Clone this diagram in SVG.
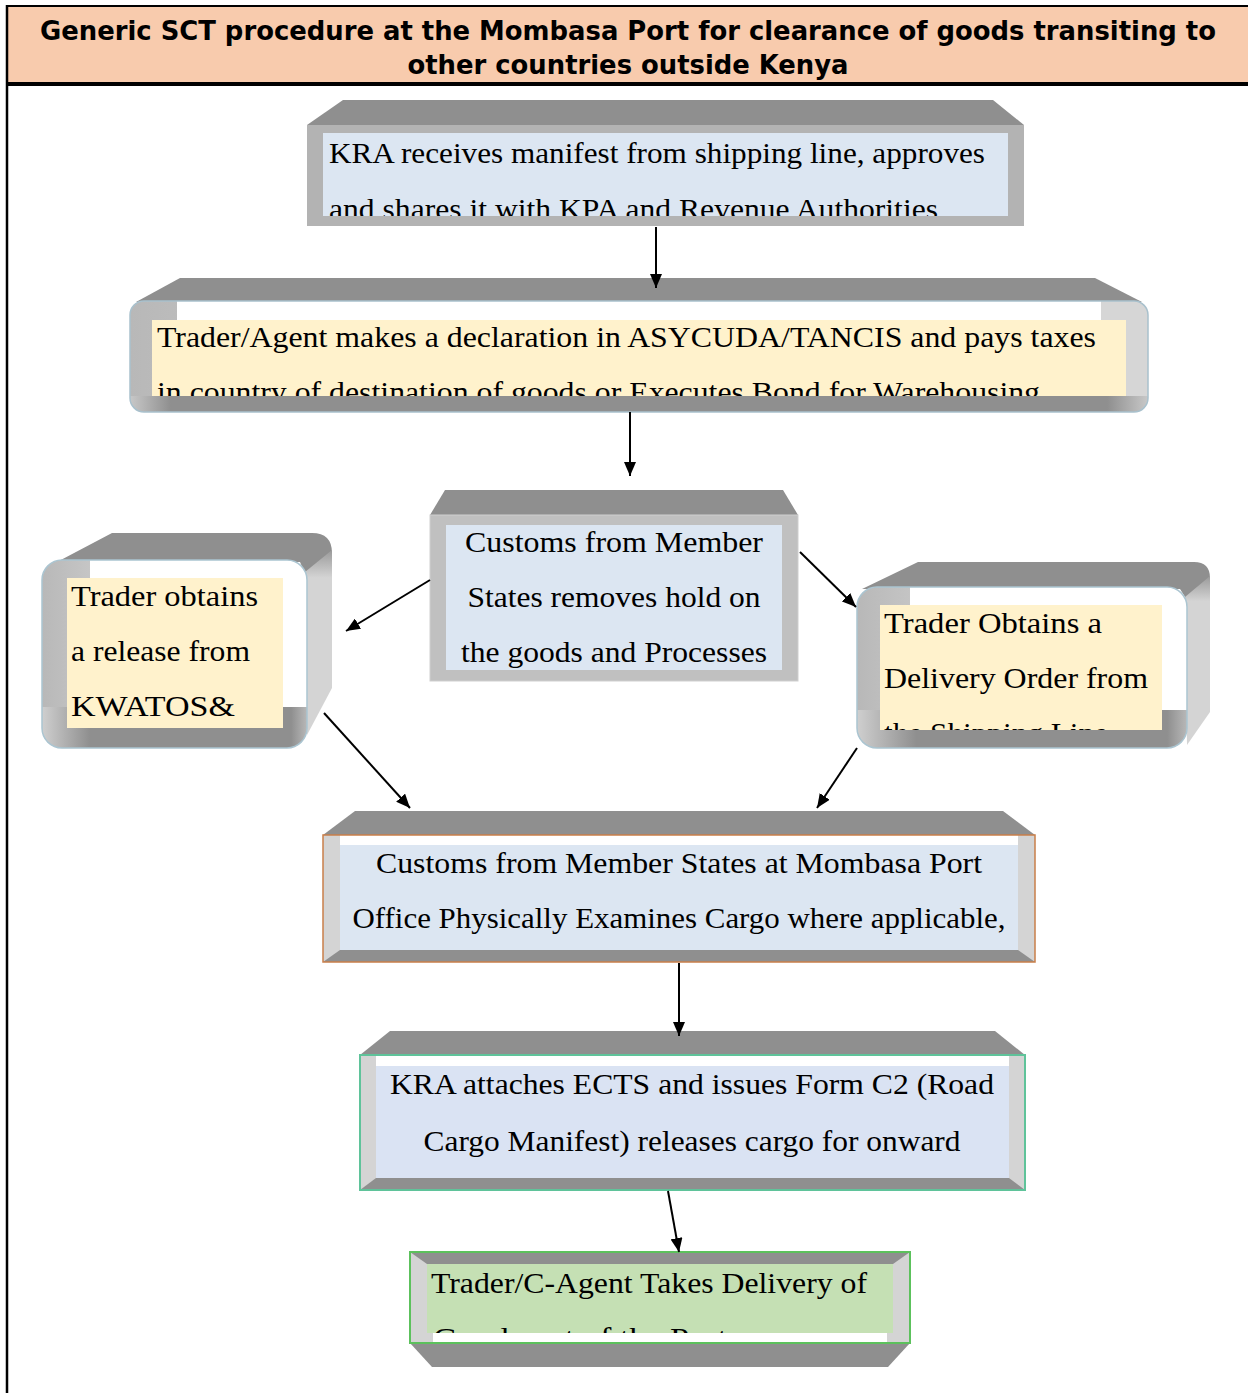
<svg xmlns="http://www.w3.org/2000/svg" width="1248" height="1393" viewBox="0 0 1248 1393">
<style>
.t{font-family:"Liberation Serif","Times New Roman",serif;font-size:30px;fill:#000}
.c{text-anchor:middle}
.dk{fill:#8f8f8f}
.lg{fill:#d4d4d4}
.cream{fill:#fff2cc}
.blue{fill:#dce6f2}
.ttl{font-family:"DejaVu Sans Condensed","DejaVu Sans","Liberation Sans",sans-serif;font-weight:bold;font-size:27px;fill:#000;text-anchor:middle}
.conn{stroke:#000;stroke-width:2;fill:none;marker-end:url(#ah)}
</style>
<defs>
<marker id="ah" markerUnits="userSpaceOnUse" viewBox="0 0 14 12" refX="14" refY="6" markerWidth="14" markerHeight="12" orient="auto">
<path d="M0,0 L14,6 L0,12 Z" fill="#000"/>
</marker>
<linearGradient id="bandH" x1="0" y1="0" x2="1" y2="0">
<stop offset="0" stop-color="#c8c8c8"/><stop offset="0.04" stop-color="#8f8f8f"/><stop offset="0.96" stop-color="#8f8f8f"/><stop offset="1" stop-color="#c8c8c8"/>
</linearGradient>
<linearGradient id="bandS" x1="0" y1="0" x2="1" y2="0">
<stop offset="0" stop-color="#cfcfcf"/><stop offset="0.18" stop-color="#8f8f8f"/><stop offset="0.94" stop-color="#8f8f8f"/><stop offset="1" stop-color="#b8b8b8"/>
</linearGradient>
<linearGradient id="sideV" x1="0" y1="0" x2="0" y2="1">
<stop offset="0" stop-color="#9a9a9a"/><stop offset="0.15" stop-color="#d4d4d4"/><stop offset="1" stop-color="#d4d4d4"/>
</linearGradient>
<linearGradient id="sideL" x1="0" y1="0" x2="1" y2="0">
<stop offset="0" stop-color="#b8b8b8"/><stop offset="0.4" stop-color="#d6d6d6"/><stop offset="1" stop-color="#d6d6d6"/>
</linearGradient>
<clipPath id="c1"><rect x="323" y="133" width="685" height="83"/></clipPath>
<clipPath id="c2"><rect x="152" y="320" width="974" height="76"/></clipPath>
<clipPath id="c2f"><rect x="130" y="301" width="1018" height="111" rx="14"/></clipPath>
<clipPath id="c4f"><rect x="42" y="560" width="265" height="188" rx="20"/></clipPath>
<clipPath id="c5f"><rect x="857" y="587" width="330" height="161" rx="20"/></clipPath>
<clipPath id="c5"><rect x="880" y="605" width="282" height="125"/></clipPath>
<clipPath id="c8"><rect x="427" y="1264" width="466" height="69"/></clipPath>
</defs>

<g id="title">
<rect x="7" y="6" width="1241" height="78" fill="#f8cbad"/>
<line x1="6" y1="6" x2="1248" y2="6" stroke="#000" stroke-width="2"/>
<rect x="6" y="82" width="1242" height="4" fill="#000"/>
<line x1="7" y1="5" x2="7" y2="1393" stroke="#000" stroke-width="2.5"/>
<text class="ttl" x="628" y="40" textLength="1176" lengthAdjust="spacingAndGlyphs">Generic SCT procedure at the Mombasa Port for clearance of goods transiting to</text>
<text class="ttl" x="628" y="74" textLength="441" lengthAdjust="spacingAndGlyphs">other countries outside Kenya</text>
</g>

<g id="node1">
<polygon class="dk" points="343,100 993,100 1024,125 307,125"/>
<rect x="307" y="125" width="717" height="101" fill="#b3b3b3"/>
<rect class="blue" x="323" y="133" width="685" height="83"/>
<g clip-path="url(#c1)">
<text class="t" x="329" y="163" textLength="656" lengthAdjust="spacingAndGlyphs">KRA receives manifest from shipping line, approves</text>
<text class="t" x="329" y="219" textLength="609" lengthAdjust="spacingAndGlyphs">and shares it with KPA and Revenue Authorities</text>
</g>
</g>

<g id="node2">
<polygon class="dk" points="180,278 1095,278 1142,302 136,302"/>
<rect x="130" y="301" width="1018" height="111" rx="14" fill="url(#sideL)"/>
<g clip-path="url(#c2f)">
<rect x="1101" y="301" width="47" height="111" fill="#d6d6d6"/>
<rect x="177" y="301" width="924" height="95" fill="#fff"/>
<rect x="130" y="396" width="1018" height="16" fill="url(#bandH)"/>
</g>
<rect x="130" y="301" width="1018" height="111" rx="14" fill="none" stroke="#a9c1cd" stroke-width="1.5"/>
<rect class="cream" x="152" y="320" width="974" height="76"/>
<g clip-path="url(#c2)">
<text class="t" x="157" y="347" textLength="939" lengthAdjust="spacingAndGlyphs">Trader/Agent makes a declaration in ASYCUDA/TANCIS and pays taxes</text>
<text class="t" x="157" y="402" textLength="883" lengthAdjust="spacingAndGlyphs">in country of destination of goods or Executes Bond for Warehousing</text>
</g>
</g>

<g id="node3">
<polygon class="dk" points="445,490 783,490 798,515 430,515"/>
<rect x="430" y="515" width="368" height="166" fill="#c0c0c0" stroke="#cfcfcf" stroke-width="1"/>
<rect class="blue" x="446" y="525" width="336" height="145"/>
<text class="t c" x="614" y="552" textLength="298" lengthAdjust="spacingAndGlyphs">Customs from Member</text>
<text class="t c" x="614" y="607" textLength="293" lengthAdjust="spacingAndGlyphs">States removes hold on</text>
<text class="t c" x="614" y="662" textLength="306" lengthAdjust="spacingAndGlyphs">the goods and Processes</text>
</g>

<g id="node4">
<path class="dk" d="M57,562 L112,533 L312,533 Q332,533 332,553 L307,578 L300,562 Z"/>
<path d="M305,572 L332,550 L332,688 L307,735 Z" fill="url(#sideV)"/>
<rect x="42" y="560" width="265" height="188" rx="20" fill="url(#sideL)"/>
<g clip-path="url(#c4f)">
<rect x="90" y="560" width="217" height="147" fill="#fff"/>
<rect x="42" y="707" width="265" height="41" fill="url(#bandS)"/>
</g>
<rect x="42" y="560" width="265" height="188" rx="20" fill="none" stroke="#abc5d1" stroke-width="1.5"/>
<rect class="cream" x="67" y="578" width="216" height="150"/>
<text class="t" x="71" y="606" textLength="187" lengthAdjust="spacingAndGlyphs">Trader obtains</text>
<text class="t" x="71" y="661" textLength="179" lengthAdjust="spacingAndGlyphs">a release from</text>
<text class="t" x="71" y="716" textLength="164" lengthAdjust="spacingAndGlyphs">KWATOS&amp;</text>
</g>

<g id="node5">
<path class="dk" d="M862,589 L918,562 L1194,562 Q1210,562 1210,578 L1187,600 L1180,589 Z"/>
<path d="M1185,597 L1210,576 L1210,712 L1187,745 Z" fill="url(#sideV)"/>
<rect x="857" y="587" width="330" height="161" rx="20" fill="url(#sideL)"/>
<g clip-path="url(#c5f)">
<rect x="910" y="587" width="277" height="123" fill="#fff"/>
<rect x="857" y="710" width="330" height="38" fill="url(#bandS)"/>
</g>
<rect x="857" y="587" width="330" height="161" rx="20" fill="none" stroke="#abc5d1" stroke-width="1.5"/>
<rect class="cream" x="880" y="605" width="282" height="125"/>
<g clip-path="url(#c5)">
<text class="t" x="884" y="633" textLength="218" lengthAdjust="spacingAndGlyphs">Trader Obtains a</text>
<text class="t" x="884" y="688" textLength="264" lengthAdjust="spacingAndGlyphs">Delivery Order from</text>
<text class="t" x="884" y="743" textLength="224" lengthAdjust="spacingAndGlyphs">the Shipping Line</text>
</g>
</g>

<g id="node6">
<polygon class="dk" points="355,811 1003,811 1035,835 323,835"/>
<rect class="lg" x="323" y="835" width="712" height="127"/>
<rect x="340" y="835" width="678" height="10" fill="#fff"/>
<polygon class="dk" points="340,950 1018,950 1035,962 323,962"/>
<rect class="blue" x="340" y="845" width="678" height="105"/>
<rect x="323" y="835" width="712" height="127" fill="none" stroke="#c97f4a" stroke-width="1.5"/>
<text class="t c" x="679" y="873" textLength="606" lengthAdjust="spacingAndGlyphs">Customs from Member States at Mombasa Port</text>
<text class="t c" x="679" y="928" textLength="653" lengthAdjust="spacingAndGlyphs">Office Physically Examines Cargo where applicable,</text>
</g>

<g id="node7">
<polygon class="dk" points="390,1031 995,1031 1025,1055 360,1055"/>
<rect class="lg" x="360" y="1055" width="665" height="135"/>
<rect x="376" y="1055" width="633" height="11" fill="#fff"/>
<polygon class="dk" points="376,1178 1009,1178 1025,1190 360,1190"/>
<rect x="376" y="1066" width="633" height="112" fill="#dae3f3"/>
<rect x="360" y="1055" width="665" height="135" fill="none" stroke="#5fc39a" stroke-width="2"/>
<text class="t c" x="692" y="1094" textLength="604" lengthAdjust="spacingAndGlyphs">KRA attaches ECTS and issues Form C2 (Road</text>
<text class="t c" x="692" y="1151" textLength="537" lengthAdjust="spacingAndGlyphs">Cargo Manifest) releases cargo for onward</text>
</g>

<g id="node8">
<polygon class="dk" points="410,1343 910,1343 888,1367 432,1367"/>
<rect class="lg" x="410" y="1252" width="500" height="91"/>
<polygon class="dk" points="410,1252 910,1252 893,1264 427,1264"/>
<rect x="433" y="1333" width="454" height="10" fill="#fff"/>
<rect x="427" y="1264" width="466" height="69" fill="#c5e0b4"/>
<rect x="410" y="1252" width="500" height="91" fill="none" stroke="#5cc15c" stroke-width="2"/>
<g clip-path="url(#c8)">
<text class="t" x="431" y="1293" textLength="436" lengthAdjust="spacingAndGlyphs">Trader/C-Agent Takes Delivery of</text>
<text class="t" x="433" y="1348" textLength="294" lengthAdjust="spacingAndGlyphs">Goods out of the Port</text>
</g>
</g>

<g id="connectors">
<path class="conn" d="M656,227 L656,288"/>
<path class="conn" d="M630,412 L630,476"/>
<path class="conn" d="M430,580 L346,631"/>
<path class="conn" d="M800,552 L856,607"/>
<path class="conn" d="M324,713 L410,808"/>
<path class="conn" d="M857,748 L817,808"/>
<path class="conn" d="M679,963 L679,1036"/>
<path class="conn" d="M668,1191 L679,1252"/>
</g>
</svg>
